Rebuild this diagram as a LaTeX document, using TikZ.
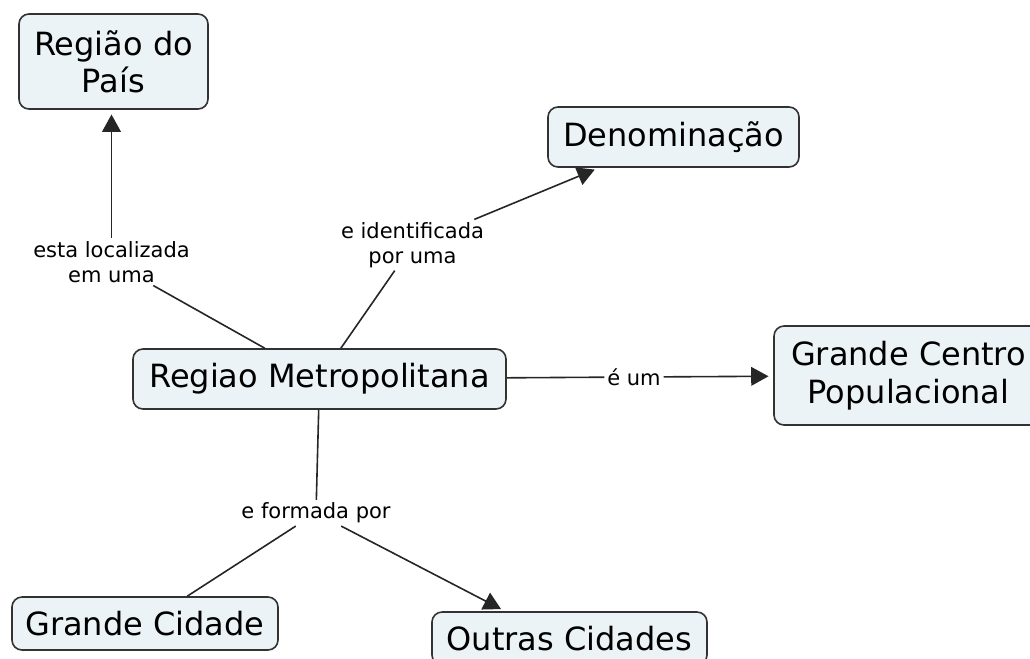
\documentclass[tikz,border=0pt]{standalone}
\usepackage{fontspec}
\setmainfont{DejaVu Sans}
\usepackage{xcolor}
\usetikzlibrary{arrows.meta}
\definecolor{cmapfill}{RGB}{235,243,246}
\definecolor{cmapline}{RGB}{50,50,50}

\begin{document}
\begin{tikzpicture}[x=0.75pt,y=0.75pt,yscale=-1,xscale=1,
  concept/.style={draw=cmapline,fill=cmapfill,rounded corners=7.5pt,line width=1.2pt,align=center,inner sep=0pt,font=\fontsize{24}{28}\selectfont},
  linkword/.style={align=center,inner sep=2pt,font=\fontsize{15.75}{18.75}\selectfont},
  link/.style={draw=black!85,line width=1.2pt},
  linkarrow/.style={link,-{Triangle[length=13pt,width=14pt]},shorten >=3.5pt}]
\useasboundingbox (0,0) rectangle (1030,658);

% Concepts
\node[concept,minimum width=141.75pt,minimum height=71.25pt] (regiao) at (113.5,61.5) {Região do\\País};
\node[concept,minimum width=188.25pt,minimum height=45pt] (denom) at (673.5,137) {Denominação};
\node[concept,minimum width=279.75pt,minimum height=45pt] (metro) at (319.5,379) {Regiao Metropolitana};
\node[concept,minimum width=201.75pt,minimum height=74.25pt] (centro) at (908.5,375.5) {Grande Centro\\Populacional};
\node[concept,minimum width=199.5pt,minimum height=39.75pt] (grande) at (145,623.5) {Grande Cidade};
\node[concept,minimum width=206.25pt,minimum height=39.75pt] (outras) at (569.5,638.5) {Outras Cidades};

% Linking words
\node[linkword] (localiza) at (111.5,262) {esta localizada\\em uma};
\node[linkword] (identif) at (412.5,245) {e identificada\\por uma};
\node[linkword] (eum) at (634,377) {é um};
\node[linkword] (formada) at (316,513) {e formada por};

% Connectors
\draw[link] (metro) -- (localiza);
\draw[linkarrow] (localiza) -- (localiza |- regiao.south);
\draw[link] (metro) -- (identif);
\draw[linkarrow] (identif) -- (denom);
\draw[link] (metro) -- (eum);
\draw[linkarrow] (eum) -- (centro);
\draw[link] (metro) -- (formada);
\draw[link] (formada) -- (grande);
\draw[linkarrow] (formada) -- (outras.157);

\end{tikzpicture}
\end{document}
